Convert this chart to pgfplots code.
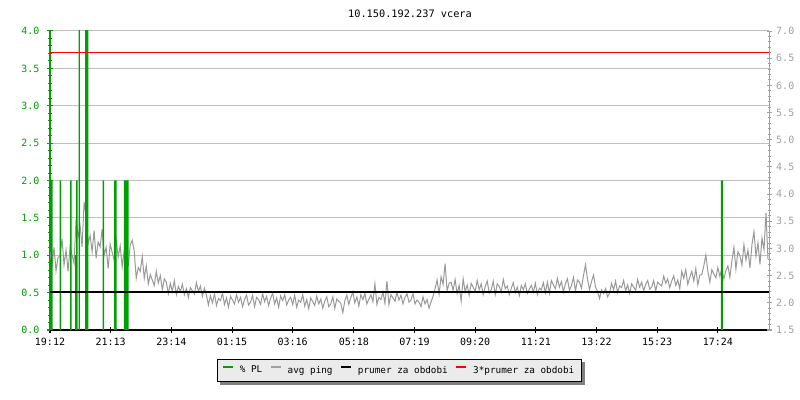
\documentclass[border=0pt]{standalone}
\usepackage{pgfplots}
\pgfplotsset{compat=1.18}
\usepackage{fontspec}
\setmainfont{DejaVu Sans Mono}
\pgfdeclarelayer{background}
\pgfsetlayers{background,main}
\definecolor{pgreen}{RGB}{0,160,0}
\definecolor{pgray}{RGB}{153,153,153}
\definecolor{gridc}{RGB}{192,192,192}
\definecolor{rlab}{RGB}{160,160,160}
\definecolor{legbg}{RGB}{235,235,235}
\newcommand{\tickfont}{\fontsize{7.5}{9}\selectfont}
\newcommand{\legfont}{\fontsize{7}{8.5}\selectfont}
\newcommand{\titlefont}{\fontsize{7.7}{9}\selectfont}
\pgfplotsset{
  common/.style={
    at={(37.5pt,52.5pt)}, anchor=south west,
    scale only axis, width=539.25pt, height=224.25pt,
    xmin=0, xmax=1434,
    /pgf/number format/assume math mode=true,
    tick align=inside,
    major tick length=3.75pt, minor tick length=2.25pt,
  }
}
\begin{document}
\begin{tikzpicture}
\useasboundingbox (0,0) rectangle (600pt,300pt);
\node[font=\titlefont] at (307.5pt,289.5pt) {10.150.192.237 vcera};
% axis 1: left scale, grid, x axis
\begin{axis}[common,
  ymin=0, ymax=4,
  axis x line=bottom, axis y line=left,
  axis line style={-},
  x axis line style={black, line width=0.75pt},
  y axis line style={pgreen, line width=0.75pt},
  xtick={0,121,242,363,484,606,727,848,969,1090,1211,1332},
  xticklabels={19:12,21:13,23:14,01:15,03:16,05:18,07:19,09:20,11:21,13:22,15:23,17:24},
  ytick={0,0.5,...,4}, minor y tick num=4,
  ymajorgrids, major grid style={gridc, line width=0.75pt},
  y tick style={pgreen, line width=0.75pt}, x tick style={black, line width=0.75pt},
  yticklabel style={pgreen, font=\tickfont, xshift=-2.5pt,
    /pgf/number format/fixed, /pgf/number format/fixed zerofill, /pgf/number format/precision=1},
  xticklabel style={black, font=\tickfont, yshift=-1pt},
]
\addplot[draw=none, forget plot] coordinates {(0,0) (1434,0)};
\end{axis}
% axis 2: right scale, ping
\begin{axis}[common,
  ymin=1.5, ymax=7,
  axis x line=none, axis y line=right,
  axis line style={-},
  y axis line style={rlab, line width=0.75pt},
  ytick={1.5,2,...,7}, minor y tick num=4,
  y tick style={rlab, line width=0.75pt},
  yticklabel style={rlab, font=\tickfont,
    /pgf/number format/fixed, /pgf/number format/fixed zerofill, /pgf/number format/precision=1},
]
\addplot[pgray, line width=0.75pt, mark=none] coordinates {
(0,2.94)(4,2.69)(8,3.02)(12,2.59)(16,2.84)(20,2.85)(24,3.18)(28,2.70)(32,2.97)(36,2.58)
(40,3.03)(44,2.88)(48,2.73)(52,3.54)(56,3.21)(60,3.42)(64,3.03)(68,3.85)(72,3.60)(76,3.09)
(80,3.24)(84,2.94)(88,3.33)(92,2.82)(96,3.12)(100,3.03)(104,3.36)(108,2.88)(112,3.02)(116,2.63)
(120,3.08)(124,2.93)(128,2.78)(132,3.17)(136,2.84)(140,3.05)(144,2.66)(148,2.96)(152,3.09)(156,2.67)
(160,3.06)(164,3.15)(168,2.95)(172,2.45)(176,2.65)(180,2.58)(184,2.85)(188,2.45)(192,2.68)(196,2.35)
(200,2.52)(204,2.42)(208,2.32)(212,2.58)(216,2.36)(220,2.50)(224,2.24)(228,2.44)(232,2.38)(236,2.17)
(240,2.36)(244,2.21)(248,2.41)(252,2.15)(256,2.30)(260,2.21)(264,2.34)(268,2.15)(272,2.26)(276,2.10)
(280,2.28)(284,2.22)(288,2.16)(292,2.37)(296,2.21)(300,2.31)(304,2.12)(308,2.27)(312,2.14)(316,1.96)
(320,2.13)(324,2.00)(328,2.17)(332,1.95)(336,2.08)(340,2.04)(344,2.18)(348,1.97)(352,2.09)(356,1.92)
(360,2.12)(364,2.05)(368,1.98)(372,2.15)(376,2.01)(380,2.10)(384,1.93)(388,2.06)(392,2.14)(396,1.96)
(400,2.01)(404,2.14)(408,1.93)(412,2.10)(416,2.06)(420,1.97)(424,2.17)(428,2.02)(432,2.12)(436,1.95)
(440,2.08)(444,2.18)(448,1.98)(452,2.09)(456,1.92)(460,2.13)(464,2.04)(468,2.15)(472,1.96)(476,2.05)
(480,2.10)(484,1.97)(488,2.14)(492,1.92)(496,2.05)(500,2.01)(504,2.15)(508,1.94)(512,2.06)(516,1.89)
(520,2.09)(524,2.02)(528,1.95)(532,2.12)(536,1.98)(540,2.07)(544,1.90)(548,2.03)(552,2.11)(556,1.93)
(560,1.98)(564,2.11)(568,1.90)(572,2.07)(576,2.03)(580,1.99)(584,1.82)(588,2.04)(592,2.14)(596,1.97)
(600,2.10)(604,2.20)(608,2.00)(612,2.11)(616,1.94)(620,2.15)(624,2.06)(628,2.17)(632,1.98)(636,2.07)
(640,2.15)(644,2.02)(648,2.35)(652,1.97)(656,2.10)(660,2.06)(664,2.20)(668,1.99)(672,2.40)(676,1.97)
(680,2.15)(684,2.09)(688,2.03)(692,2.19)(696,2.05)(700,2.14)(704,1.98)(708,2.10)(712,2.17)(716,2.01)
(720,2.05)(724,2.17)(728,1.98)(732,2.05)(736,2.01)(740,1.93)(744,2.11)(748,1.98)(752,2.06)(756,1.90)
(760,2.02)(764,2.12)(768,2.26)(772,2.42)(776,2.16)(780,2.48)(784,2.34)(788,2.72)(792,2.22)(796,2.36)
(800,2.38)(804,2.23)(808,2.43)(812,2.17)(816,2.32)(820,2.03)(824,2.44)(828,2.20)(832,2.33)(836,2.14)
(840,2.36)(844,2.29)(848,2.21)(852,2.41)(856,2.24)(860,2.35)(864,2.15)(868,2.30)(872,2.40)(876,2.18)
(880,2.24)(884,2.40)(888,2.15)(892,2.35)(896,2.30)(900,2.20)(904,2.43)(908,2.26)(912,2.31)(916,2.15)
(920,2.27)(924,2.37)(928,2.19)(932,2.29)(936,2.13)(940,2.32)(944,2.24)(948,2.35)(952,2.17)(956,2.25)
(960,2.32)(964,2.20)(968,2.36)(972,2.15)(976,2.27)(980,2.24)(984,2.37)(988,2.18)(992,2.38)(996,2.18)
(1000,2.41)(1004,2.33)(1008,2.26)(1012,2.45)(1016,2.29)(1020,2.39)(1024,2.20)(1028,2.35)(1032,2.44)(1036,2.23)
(1040,2.32)(1044,2.47)(1048,2.22)(1052,2.42)(1056,2.38)(1060,2.27)(1064,2.50)(1068,2.70)(1072,2.44)(1076,2.24)
(1080,2.39)(1084,2.51)(1088,2.29)(1092,2.21)(1096,2.08)(1100,2.24)(1104,2.17)(1108,2.26)(1112,2.11)(1116,2.18)
(1120,2.36)(1124,2.24)(1128,2.40)(1132,2.19)(1136,2.31)(1140,2.28)(1144,2.41)(1148,2.22)(1152,2.33)(1156,2.17)
(1160,2.35)(1164,2.29)(1168,2.23)(1172,2.43)(1176,2.29)(1180,2.38)(1184,2.22)(1188,2.34)(1192,2.41)(1196,2.25)
(1200,2.29)(1204,2.41)(1208,2.22)(1212,2.38)(1216,2.34)(1220,2.31)(1224,2.49)(1228,2.36)(1232,2.44)(1236,2.28)
(1240,2.40)(1244,2.50)(1248,2.32)(1252,2.42)(1256,2.26)(1260,2.58)(1264,2.45)(1268,2.61)(1272,2.34)(1276,2.47)
(1280,2.58)(1284,2.40)(1288,2.63)(1292,2.33)(1296,2.51)(1300,2.52)(1304,2.68)(1308,2.88)(1312,2.58)(1316,2.38)
(1320,2.61)(1324,2.53)(1328,2.46)(1332,2.65)(1336,2.49)(1340,2.63)(1344,2.44)(1348,2.59)(1352,2.68)(1356,2.47)
(1360,2.77)(1364,3.02)(1368,2.62)(1372,2.94)(1376,2.87)(1380,2.69)(1384,3.07)(1388,2.79)(1392,2.97)(1396,2.64)
(1400,3.07)(1404,3.31)(1408,2.86)(1412,3.10)(1416,2.71)(1420,3.19)(1424,2.98)(1428,3.65)(1432,2.80)
};
\end{axis}
% axis 3: left scale, packet loss
\begin{axis}[common, ymin=0, ymax=4, hide axis]
\addplot[fill=pgreen, draw=none, const plot mark left] coordinates {
(0,0) (1,2) (5,0) (19,2) (22,0) (40,2) (43,0) (50,1) (52,2) (55,0)
(57,4.5) (59.5,0) (70,4.5) (76.5,0) (105,2) (108,0) (128,2) (133,0)
(147.5,2) (157,0) (1338,2) (1342,0) (1434,0)} \closedcycle;
\end{axis}
% axis 4: right scale, averages + legend
\begin{axis}[common, ymin=1.5, ymax=7, hide axis,
  legend columns=4,
  legend image code/.code={\draw[#1, line width=1.5pt] (0pt,2.6pt) -- (7.5pt,2.6pt);},
  legend style={at={(0.486,-0.1356)}, anchor=center, name=leg,
    font=\legfont, fill=legbg, draw=black, line width=0.75pt,
    inner xsep=3pt, inner ysep=3pt,
    /tikz/every odd column/.append style={column sep=2.5pt},
    /tikz/every even column/.append style={column sep=3.5pt}},
]
\addlegendimage{pgreen}\addlegendentry{\% PL}
\addlegendimage{rlab}\addlegendentry{avg ping}
\addlegendimage{black}\addlegendentry{prumer za obdobi}
\addlegendimage{red}\addlegendentry{3*prumer za obdobi}
\addplot[black, line width=1.5pt, forget plot] coordinates {(0,2.19) (1434,2.19)};
\addplot[red, line width=0.75pt, forget plot] coordinates {(0,6.61) (1434,6.61)};
\end{axis}
\begin{pgfonlayer}{background}
\fill[black!50] ([xshift=2.25pt,yshift=-2.25pt]leg.south west) rectangle ([xshift=2.25pt,yshift=-2.25pt]leg.north east);
\end{pgfonlayer}
\end{tikzpicture}
\end{document}
